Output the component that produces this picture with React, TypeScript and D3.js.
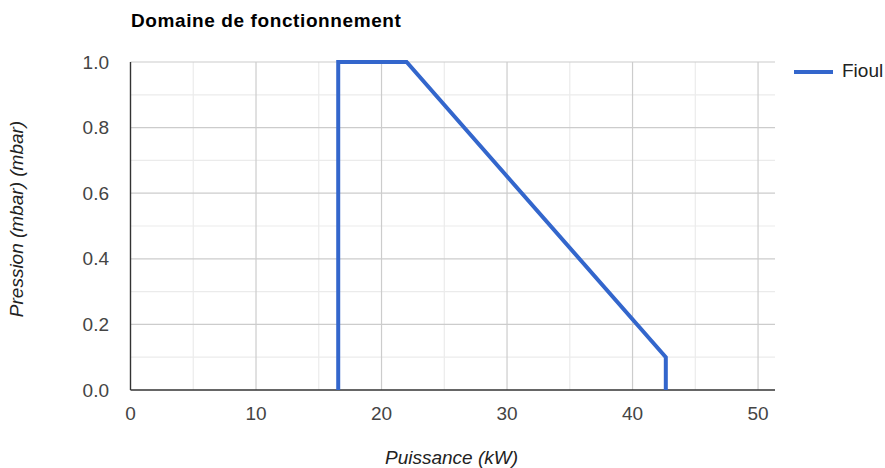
import React from 'react';
import * as d3 from 'd3';

// Data
const puissance = [16.55, 16.55, 22.0, 42.65, 42.65];
const pression = [0, 1.0, 1.0, 0.1, 0];
const seriesName = 'Fioul';
const xTicks = [0, 10, 20, 30, 40, 50];
const xMinor = [5, 15, 25, 35, 45];
const yTicks = [0, 0.2, 0.4, 0.6, 0.8, 1.0];
const yMinor = [0.1, 0.3, 0.5, 0.7, 0.9];

const width = 885;
const height = 468;
const left = 130.5;
const right = 775;
const top = 62;
const bottom = 390;
const font = 'Arial, "Liberation Sans", sans-serif';
const fs = 19;

const App = () => {
  const x = d3.scaleLinear().domain([0, 51.35]).range([left, right]);
  const y = d3.scaleLinear().domain([0, 1]).range([bottom, top]);

  const points: [number, number][] = puissance.map((p, i) => [p, pression[i]]);
  const line = d3.line<[number, number]>()
    .x(d => x(d[0]))
    .y(d => y(d[1]));

  return (
    <svg width={width} height={height}
      style={{ position: 'absolute', left: 0, top: 0, background: '#fff' }}>
      <text x={131} y={27} fontFamily={font} fontSize={fs} fontWeight="bold" fill="#000"
        letterSpacing={0.6}>
        Domaine de fonctionnement
      </text>

      {/* minor grid */}
      {xMinor.map(v => (
        <line key={'xm' + v} x1={x(v)} x2={x(v)} y1={top} y2={bottom} stroke="#ebebeb" strokeWidth={1.2} />
      ))}
      {yMinor.map(v => (
        <line key={'ym' + v} x1={left} x2={right} y1={y(v)} y2={y(v)} stroke="#ebebeb" strokeWidth={1.2} />
      ))}
      {/* major grid */}
      {xTicks.filter(v => v > 0).map(v => (
        <line key={'x' + v} x1={x(v)} x2={x(v)} y1={top} y2={bottom} stroke="#cccccc" strokeWidth={1.2} />
      ))}
      {yTicks.filter(v => v > 0).map(v => (
        <line key={'y' + v} x1={left} x2={right} y1={y(v)} y2={y(v)} stroke="#cccccc" strokeWidth={1.2} />
      ))}

      {/* baselines */}
      <line x1={left} x2={left} y1={top} y2={bottom} stroke="#333" strokeWidth={1.4} />
      <line x1={left} x2={right} y1={bottom} y2={bottom} stroke="#333" strokeWidth={1.4} />

      {/* tick labels */}
      {yTicks.map(v => (
        <text key={'yl' + v} x={109} y={y(v) + 6.5} textAnchor="end"
          fontFamily={font} fontSize={fs} fill="#444">
          {d3.format('.1f')(v)}
        </text>
      ))}
      {xTicks.map(v => (
        <text key={'xl' + v} x={x(v)} y={420} textAnchor="middle"
          fontFamily={font} fontSize={fs} fill="#444">
          {v}
        </text>
      ))}

      <path d={line(points) || ''} fill="none" stroke="#3366cc" strokeWidth={4} />

      {/* axis titles */}
      <text x={451.5} y={464} textAnchor="middle" fontFamily={font} fontSize={fs}
        fontStyle="italic" fill="#222">
        Puissance (kW)
      </text>
      <text transform="translate(23,219) rotate(-90)" textAnchor="middle" fontFamily={font}
        fontSize={fs} fontStyle="italic" fill="#222">
        Pression (mbar) (mbar)
      </text>

      {/* legend */}
      <line x1={794} x2={833} y1={72} y2={72} stroke="#3366cc" strokeWidth={4} />
      <text x={842} y={77} fontFamily={font} fontSize={fs} fill="#222">{seriesName}</text>
    </svg>
  );
};

export default App;
